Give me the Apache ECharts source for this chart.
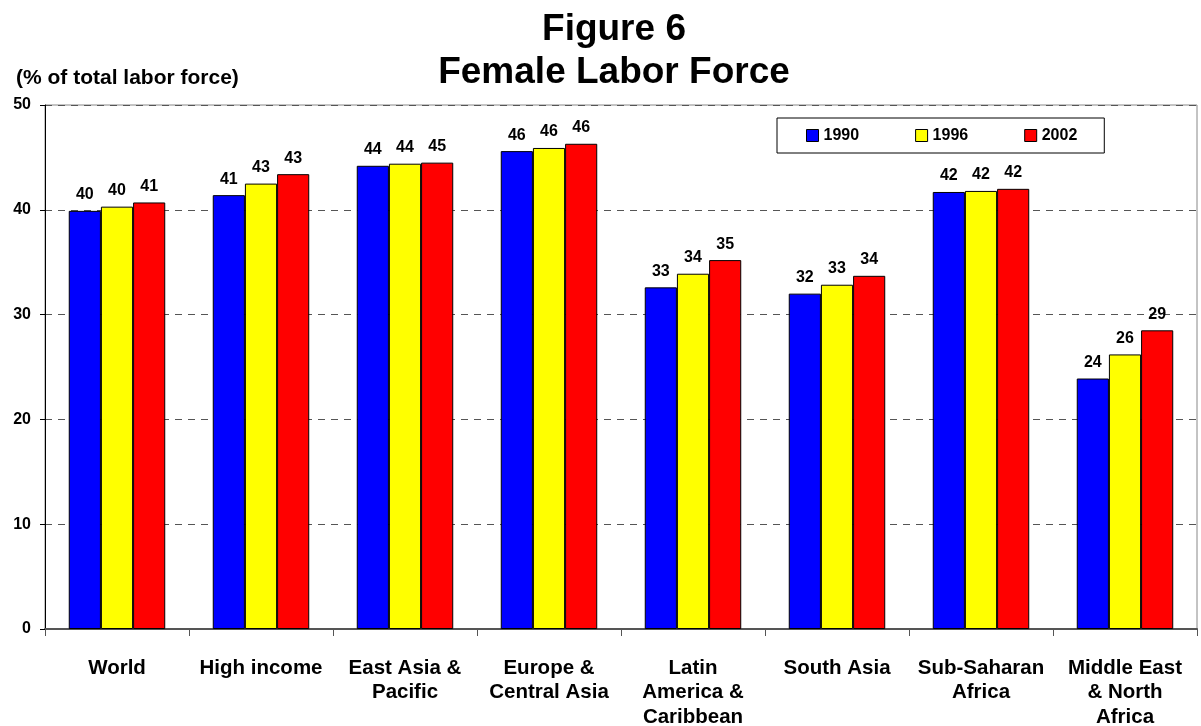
<!DOCTYPE html>
<html>
<head>
<meta charset="utf-8">
<script src="https://cdn.jsdelivr.net/npm/echarts@6/dist/echarts.min.js"></script>
<style>
  html, body { margin: 0; padding: 0; background: #fff; }
  #chart { width: 1201px; height: 726px; }
</style>
</head>
<body>
<div id="chart"></div>
<script>
var regions = ["World", "High income", "East Asia &\nPacific", "Europe &\nCentral Asia",
    "Latin\nAmerica &\nCaribbean", "South Asia", "Sub-Saharan\nAfrica", "Middle East\n& North\nAfrica"];
var years = ["1990", "1996", "2002"];
var v1990 = [39.9, 41.4, 44.2, 45.6, 32.6, 32.0, 41.7, 23.9];
var v1996 = [40.3, 42.5, 44.4, 45.9, 33.9, 32.85, 41.8, 26.2];
var v2002 = [40.7, 43.4, 44.5, 46.3, 35.2, 33.7, 42.0, 28.5];
var yTicks = [0, 10, 20, 30, 40, 50];
var colors = ["#0000ff", "#ffff00", "#ff0000"];

var font = "'Liberation Sans', Arial, sans-serif";

function makeSeries(name, data, color) {
    return {
        name: name,
        type: "bar",
        data: data,
        barGap: "0%",
        barCategoryGap: "33%",
        itemStyle: { color: color, borderColor: "#000", borderWidth: 1 },
        label: {
            show: true,
            position: "top",
            distance: 8,
            formatter: function (p) { return Math.round(p.value); },
            fontFamily: font,
            fontWeight: "bold",
            fontSize: 16,
            color: "#000"
        }
    };
}

var chart = echarts.init(document.getElementById("chart"));
chart.setOption({
    animation: false,
    textStyle: { fontFamily: font },
    title: [{
        text: "Figure 6\nFemale Labor Force",
        left: 614,
        textAlign: "center",
        top: 8,
        padding: 0,
        textStyle: { fontFamily: font, fontWeight: "bold", fontSize: 37, lineHeight: 43, color: "#000" }
    }, {
        text: "(% of total labor force)",
        left: 16,
        top: 67,
        padding: 0,
        textStyle: { fontFamily: font, fontWeight: "bold", fontSize: 21, lineHeight: 22, color: "#000" }
    }],
    legend: {
        data: years,
        left: 777,
        top: 118,
        padding: [9, 27, 9, 29],
        itemGap: 56,
        itemWidth: 12,
        itemHeight: 12,
        icon: "rect",
        itemStyle: { borderColor: "#000", borderWidth: 1 },
        borderColor: "#000",
        borderWidth: 1,
        textStyle: { fontFamily: font, fontWeight: "bold", fontSize: 16, lineHeight: 17, color: "#000" }
    },
    grid: {
        left: 45, right: 4, top: 105, bottom: 97,
        outerBoundsMode: "none",
        containLabel: false,
        show: true, borderColor: "#888", borderWidth: 1
    },
    xAxis: {
        type: "category",
        data: regions,
        axisLine: { lineStyle: { color: "#555", width: 2 } },
        axisTick: { show: true, length: 7, lineStyle: { color: "#555" } },
        axisLabel: {
            interval: 0,
            margin: 27,
            fontFamily: font,
            fontWeight: "bold",
            fontSize: 20.5,
            lineHeight: 24.5,
            color: "#000"
        }
    },
    yAxis: {
        type: "value",
        min: 0,
        max: 50,
        interval: 10,
        axisLine: { show: true, lineStyle: { color: "#000", width: 1 } },
        axisTick: { show: true, length: 5, lineStyle: { color: "#000" } },
        axisLabel: {
            margin: 14,
            fontFamily: font,
            fontWeight: "bold",
            fontSize: 16,
            color: "#000",
            formatter: function (v) { return yTicks.indexOf(v) >= 0 ? v : ""; }
        },
        splitLine: { show: true, lineStyle: { color: "#555", type: [7, 6], width: 1 } }
    },
    series: [
        makeSeries(years[0], v1990, colors[0]),
        makeSeries(years[1], v1996, colors[1]),
        makeSeries(years[2], v2002, colors[2])
    ]
});
</script>
</body>
</html>
